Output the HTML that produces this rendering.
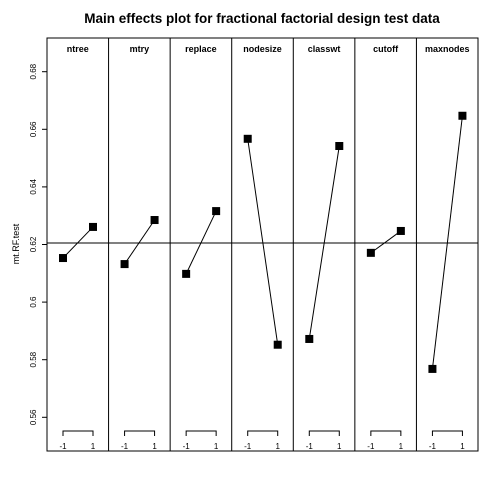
<!DOCTYPE html>
<html><head><meta charset="utf-8"><style>body{margin:0;background:#fff}svg{display:block}text{font-family:"Liberation Sans",Arial,sans-serif}</style></head>
<body>
<svg id="chart" width="480" height="480" viewBox="0 0 480 480">
<text x="262" y="23" text-anchor="middle" font-size="13.5" font-weight="bold">Main effects plot for fractional factorial design test data</text>
<text transform="translate(19,244) rotate(-90)" text-anchor="middle" font-size="9">mt.RF.test</text>
<g id="axis"></g>
<g id="panels"></g>
</svg>
<script>
const factors = ["ntree","mtry","replace","nodesize","classwt","cutoff","maxnodes"];
const lowValues = [0.6153,0.6132,0.6098,0.6567,0.5872,0.6171,0.5768];
const highValues = [0.6261,0.6285,0.6316,0.5852,0.6542,0.6247,0.6647];
const levelLabels = ["-1","1"];
const yTicks = [0.56,0.58,0.6,0.62,0.64,0.66,0.68];
const yTickLabels = ["0.56","0.58","0.6","0.62","0.64","0.66","0.68"];
const grandMean = 0.6205;

const NS="http://www.w3.org/2000/svg";
const L=47,R=478,T=38,B=451;
const pw=(R-L)/factors.length;
function y(v){return 417.3-(v-0.56)/0.01*28.8;}
function xl(i,lvl){return L+i*pw+(lvl===0?16:46);}
function mk(tag,attrs,parent){const e=document.createElementNS(NS,tag);for(const k in attrs)e.setAttribute(k,attrs[k]);parent.appendChild(e);return e;}
const ax=document.getElementById('axis'), pg=document.getElementById('panels');
const frame=mk('rect',{x:L,y:T,width:R-L,height:B-T,fill:'none',stroke:'#000','stroke-width':1},ax);


yTicks.forEach((t,i)=>{
  const ln=mk('line',{x1:L-5,x2:L,y1:y(t),y2:y(t),stroke:'#000'},ax);
  
  
  const tx=mk('text',{transform:`translate(${L-11},${y(t)}) rotate(-90)`,'text-anchor':'middle','font-size':8},ax);
  tx.textContent=yTickLabels[i];
  
  
});
const ml=mk('line',{x1:L,x2:R,y1:y(grandMean),y2:y(grandMean),stroke:'#000'},ax);


factors.forEach((f,i)=>{
  const g=mk('g',{},pg);
  
  
  if(i>0){const d=mk('line',{x1:L+i*pw,x2:L+i*pw,y1:T,y2:B,stroke:'#000'},g);
    
    }
  const h=mk('text',{x:L+i*pw+pw/2,y:T+14,'text-anchor':'middle','font-size':9,'font-weight':'bold'},g);
  h.textContent=f;
  
  
  const x0=xl(i,0),x1=xl(i,1);
  const br=mk('path',{d:`M${x0},${436} V${431} H${x1} V${436}`,fill:'none',stroke:'#000'},g);
  
  
  [x0,x1].forEach((xx,k)=>{const t=mk('text',{x:xx,y:449,'text-anchor':'middle','font-size':8},g);
    t.textContent=levelLabels[k];
    
    });
  const ln=mk('line',{x1:x0,y1:y(lowValues[i]),x2:x1,y2:y(highValues[i]),stroke:'#000'},g);
  
  
  [[x0,lowValues[i]],[x1,highValues[i]]].forEach(p=>{
    const r=mk('rect',{x:p[0]-4,y:y(p[1])-4,width:8,height:8,fill:'#000'},g);
    
    });
});
</script>
</body></html>
